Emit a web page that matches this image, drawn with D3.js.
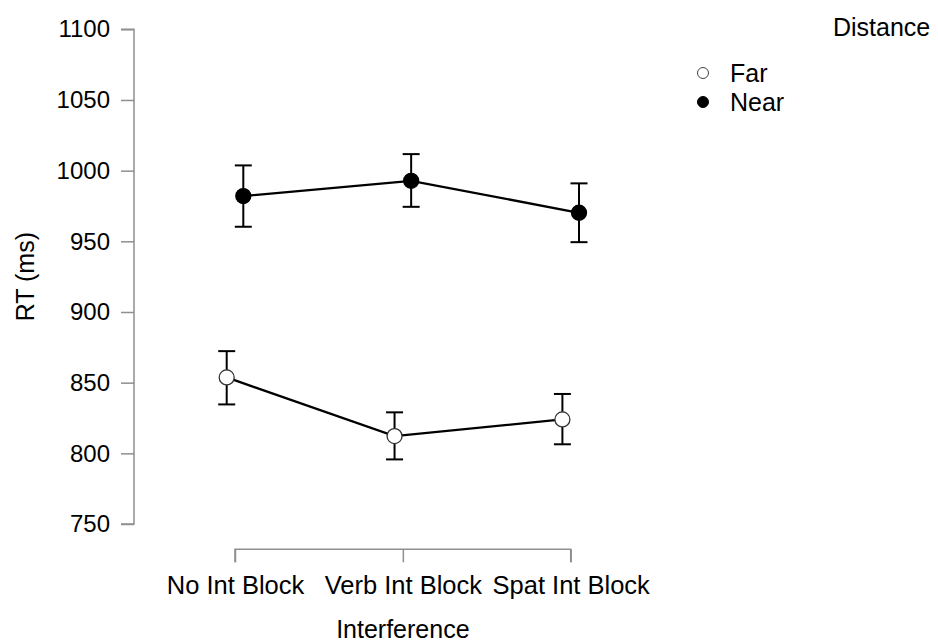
<!DOCTYPE html>
<html>
<head>
<meta charset="utf-8">
<script src="https://cdn.jsdelivr.net/npm/d3@7"></script>
<style>
  body { margin: 0; background: #fff; }
  text { font-family: "Liberation Sans", Arial, sans-serif; fill: #000; }
</style>
</head>
<body>
<div id="chart-area"></div>
<script>
// data
var categories = ["No Int Block", "Verb Int Block", "Spat Int Block"];
var seriesNames = ["Far", "Near"];
var farMean = [853.7, 812.2, 824.0];
var farLower = [834.6, 795.7, 806.4];
var farUpper = [872.3, 829.0, 842.0];
var nearMean = [982.0, 992.8, 970.2];
var nearLower = [960.3, 974.4, 949.4];
var nearUpper = [1003.7, 1011.7, 991.0];
var yTicks = [750, 800, 850, 900, 950, 1000, 1050, 1100];

var width = 938, height = 642;

var svg = d3.select("#chart-area").append("svg")
    .attr("width", width)
    .attr("height", height);

// Scales
var x = d3.scalePoint()
    .domain(categories)
    .range([235, 570.7]);

var y = d3.scaleLinear()
    .domain([750, 1100])
    .range([524, 29.3]);

var dodge = d3.scalePoint()
    .domain(seriesNames)
    .range([-8.3, 8.3]);

var series = [
  {name: "Far", fill: "#fff", mean: farMean, lo: farLower, hi: farUpper},
  {name: "Near", fill: "#000", mean: nearMean, lo: nearLower, hi: nearUpper}
];

// axes
var yAxis = d3.axisLeft(y).tickValues(yTicks).tickFormat(d3.format("d"))
    .tickSize(13).tickPadding(11).tickSizeOuter(0);
var xAxis = d3.axisBottom(x).tickSize(13).tickPadding(14).tickSizeOuter(0);

var gy = svg.append("g")
    .attr("class", "y-axis axis")
    .attr("transform", "translate(134,0)")
    .call(yAxis);

var gx = svg.append("g")
    .attr("class", "x-axis axis")
    .attr("transform", "translate(0,549.3)")
    .call(xAxis);

svg.selectAll(".axis path, .axis line")
    .attr("stroke", "#8f8f8f")
    .attr("stroke-width", 1.5);
gy.selectAll("text")
    .attr("font-size", 24)
    .attr("fill", "#000");
gx.selectAll("text")
    .attr("font-size", 25.5)
    .attr("fill", "#000");

// the axis domain lines run only tick to tick (bracket style)
gx.select(".domain").attr("d", "M235,13V0H570.7V13");
gy.select(".domain").attr("d", "M-13," + y(750) + "H0V" + y(1100) + "H-13");

svg.append("text")
    .attr("transform", "translate(34," + ((y(750) + y(1100)) / 2) + ") rotate(-90)")
    .attr("text-anchor", "middle")
    .attr("font-size", 25)
    .text("RT (ms)");

svg.append("text")
    .attr("x", x("Verb Int Block"))
    .attr("y", 638)
    .attr("text-anchor", "middle")
    .attr("font-size", 25)
    .text("Interference");

var line = d3.line()
    .x(function(d) { return d.x; })
    .y(function(d) { return d.y; });

series.forEach(function(s) {
  var pts = categories.map(function(c, i) {
    return {x: x(c) + dodge(s.name), y: y(s.mean[i]), lo: y(s.lo[i]), hi: y(s.hi[i])};
  });

  var g = svg.append("g").attr("class", "series");

  g.append("path")
      .datum(pts)
      .attr("d", line)
      .attr("fill", "none")
      .attr("stroke", "#000")
      .attr("stroke-width", 2.3);

  var eb = g.selectAll(".err").data(pts).enter().append("g").attr("class", "err");
  eb.append("line")
      .attr("x1", function(d) { return d.x; })
      .attr("x2", function(d) { return d.x; })
      .attr("y1", function(d) { return d.lo; })
      .attr("y2", function(d) { return d.hi; });
  eb.append("line")
      .attr("x1", function(d) { return d.x - 8.5; })
      .attr("x2", function(d) { return d.x + 8.5; })
      .attr("y1", function(d) { return d.hi; })
      .attr("y2", function(d) { return d.hi; });
  eb.append("line")
      .attr("x1", function(d) { return d.x - 8.5; })
      .attr("x2", function(d) { return d.x + 8.5; })
      .attr("y1", function(d) { return d.lo; })
      .attr("y2", function(d) { return d.lo; });
  eb.selectAll("line")
      .attr("stroke", "#000")
      .attr("stroke-width", 2);

  g.selectAll("circle").data(pts).enter().append("circle")
      .attr("cx", function(d) { return d.x; })
      .attr("cy", function(d) { return d.y; })
      .attr("r", 7.5)
      .attr("fill", s.fill)
      .attr("stroke", s.name == "Far" ? "#333" : "#000")
      .attr("stroke-width", 1.3);
});

// legend
var legend = svg.append("g").attr("class", "legend");
legend.append("text")
    .attr("x", 833)
    .attr("y", 36)
    .attr("font-size", 25)
    .text("Distance");

var items = legend.selectAll(".item").data(series).enter().append("g")
    .attr("class", "item")
    .attr("transform", function(d, i) { return "translate(703," + (73 + i * 29) + ")"; });
items.append("circle")
    .attr("r", 5.5)
    .attr("fill", function(d) { return d.fill; })
    .attr("stroke", function(d) { return d.name == "Far" ? "#444" : "#000"; })
    .attr("stroke-width", 1);
items.append("text")
    .attr("x", 27)
    .attr("y", 9)
    .attr("font-size", 25)
    .text(function(d) { return d.name; });
</script>
</body>
</html>
